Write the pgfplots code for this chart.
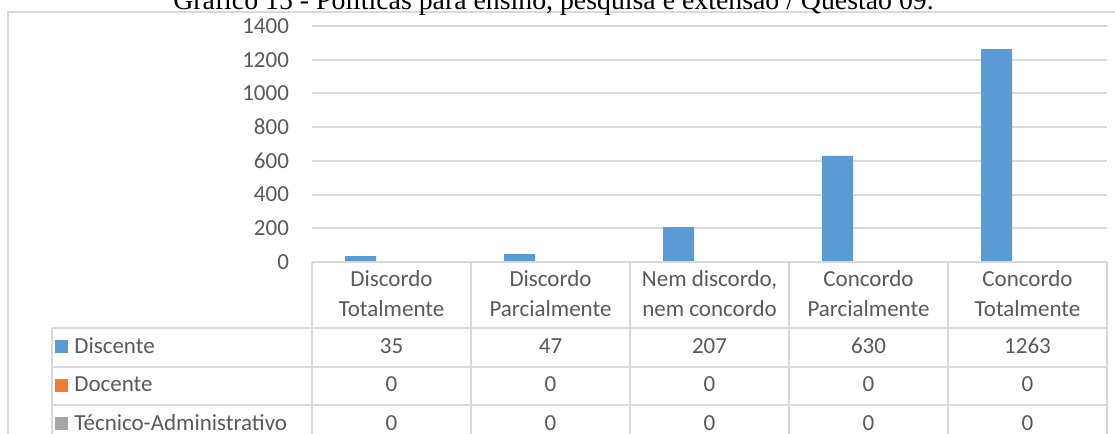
\documentclass[border=0pt]{standalone}
\usepackage{fontspec}
\setmainfont{Carlito}
\newfontfamily\titlefont{Liberation Serif}
\usepackage{pgfplots}
\usepackage{pgfplotstable}
\pgfplotsset{compat=1.18}

\definecolor{discente}{HTML}{5B9BD5}
\definecolor{docente}{HTML}{ED7D31}
\definecolor{tecnico}{HTML}{A5A5A5}
\definecolor{txt}{HTML}{595959}
\definecolor{regua}{HTML}{D9D9D9}

% Questão 09 -- respostas por segmento
\pgfplotstableread{
x dis doc tec
0 35 0 0
1 47 0 0
2 207 0 0
3 630 0 0
4 1263 0 0
}\dados

\begin{document}
\begin{tikzpicture}[x=0.5pt,y=-0.5pt,font=\fontsize{11.5}{14}\selectfont]
\useasboundingbox (0,0) rectangle (1115,434);
\clip (0,0) rectangle (1115,434);

% moldura do gráfico
\draw[regua,line width=1pt] (8,12) rectangle (1140,470);

\node[anchor=base,inner sep=0,font=\titlefont\fontsize{13.9}{16}\selectfont]
  at (553.5,9.5) {Gráfico 15 - Políticas para ensino, pesquisa e extensão / Questão 09.};

\begin{axis}[
    at={(156pt,-131pt)}, anchor=south west,
    scale only axis, width=397.5pt, height=118pt,
    xmin=-0.5, xmax=4.5, ymin=0, ymax=1400,
    ytick={0,200,...,1400}, xtick=\empty,
    ybar=0pt, bar width=15.5pt,
    axis line style={draw=none}, tick style={draw=none},
    ymajorgrids, grid style={regua,line width=1pt},
    yticklabel style={text=txt,font=\fontsize{11.5}{14}\selectfont,xshift=-8pt},
    /pgf/number format/assume math mode=true,
    /pgf/number format/1000 sep={},
    clip=false,
  ]
  \addplot[fill=discente,draw=none] table[x=x,y=dis]{\dados};
  \addplot[fill=docente,draw=none] table[x=x,y=doc]{\dados};
  \addplot[fill=tecnico,draw=none] table[x=x,y=tec]{\dados};
\end{axis}

% tabela de dados
\begin{scope}[regua,line width=1pt]
  \foreach \xx in {312,471,630,789,948,1107}
    \draw (\xx,262) -- (\xx,450);
  \draw (52,328) -- (52,450);
  \draw (312,262) -- (1107,262);
  \foreach \yy in {328,367,405}
    \draw (52,\yy) -- (1107,\yy);
\end{scope}

\foreach \c/\a/\b in {0/Discordo/Totalmente, 1/Discordo/Parcialmente,
    2/{Nem discordo,}/{nem concordo}, 3/Concordo/Parcialmente, 4/Concordo/Totalmente}{
  \node[anchor=base,inner sep=0,text=txt] at (391.5+159*\c,286.7) {\a};
  \node[anchor=base,inner sep=0,text=txt] at (391.5+159*\c,316.7) {\b};
}

\foreach \nome/\cor/\col/\yb in {Discente/discente/dis/353, Docente/docente/doc/391.7,
    Técnico-Administrativo/tecnico/tec/430}{
  \fill[\cor] (55,\yb-13) rectangle (68,\yb);
  \node[anchor=base west,inner sep=0,text=txt] at (74,\yb) {\nome};
  \foreach \c in {0,...,4}{
    \pgfplotstablegetelem{\c}{\col}\of\dados
    \node[anchor=base,inner sep=0,text=txt] at (391.5+159*\c,\yb) {\pgfplotsretval};
  }
}
\end{tikzpicture}
\end{document}
